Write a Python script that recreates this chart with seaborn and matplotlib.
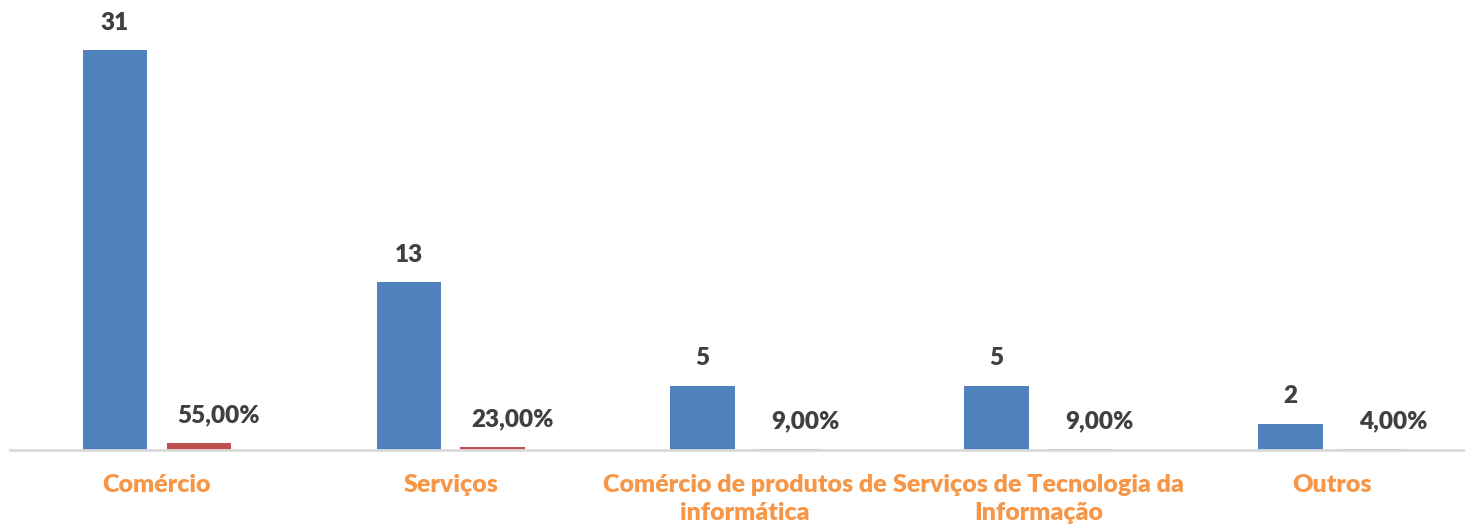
import pandas as pd
import seaborn as sns
import matplotlib.pyplot as plt

# Data
categorias = ['Comércio', 'Serviços', 'Comércio de produtos de\ninformática',
              'Serviços de Tecnologia da\nInformação', 'Outros']
quantidade = [31, 13, 5, 5, 2]
percentual = [0.55, 0.23, 0.09, 0.09, 0.04]
rotulos_pct = ['55,00%', '23,00%', '9,00%', '9,00%', '4,00%']

df = pd.DataFrame({
    'Categoria': categorias * 2,
    'Série': ['Quantidade'] * len(categorias) + ['Percentual'] * len(categorias),
    'Valor': quantidade + percentual,
})

sns.set_style('white')
plt.rcParams['font.family'] = ['Lato', 'DejaVu Sans']

fig = plt.figure(figsize=(14.65, 5.27), dpi=100)
ax = fig.add_axes([10 / 1465, 77 / 527, 1 - 10 / 1465, 450 / 527])

sns.barplot(data=df, x='Categoria', y='Valor', hue='Série',
            palette=['#4F81BD', '#C0504D'], saturation=1, width=0.57, gap=0.23,
            linewidth=0, legend=False, ax=ax)

ax.set_xlim(-0.5, 4.452)
ax.set_ylim(0, 34.9)

# Data labels
for bar, val in zip(ax.containers[0], quantidade):
    ax.annotate(str(val), (bar.get_x() + bar.get_width() / 2, bar.get_height()),
                xytext=(0, 20), textcoords='offset points', ha='center', va='center',
                fontsize=17.5, fontweight='heavy', color='#404040')
for bar, txt in zip(ax.containers[1], rotulos_pct):
    ax.annotate(txt, (bar.get_x() + bar.get_width() / 2, bar.get_height()),
                xytext=(14, 20), textcoords='offset points', ha='center', va='center',
                fontsize=17.5, fontweight='heavy', color='#404040')

# Axes styling
for s in ['top', 'right', 'left']:
    ax.spines[s].set_visible(False)
ax.spines['bottom'].set_color('#D9D9D9')
ax.spines['bottom'].set_linewidth(2)
ax.set_yticks([])
ax.set_xlabel('')
ax.set_ylabel('')
ax.tick_params(axis='x', length=0, pad=17)
for lbl in ax.get_xticklabels():
    lbl.set_fontsize(18)
    lbl.set_fontweight('heavy')
    lbl.set_color('#F79646')
    lbl.set_linespacing(1.35)

fig.savefig('out.png', dpi=100)
